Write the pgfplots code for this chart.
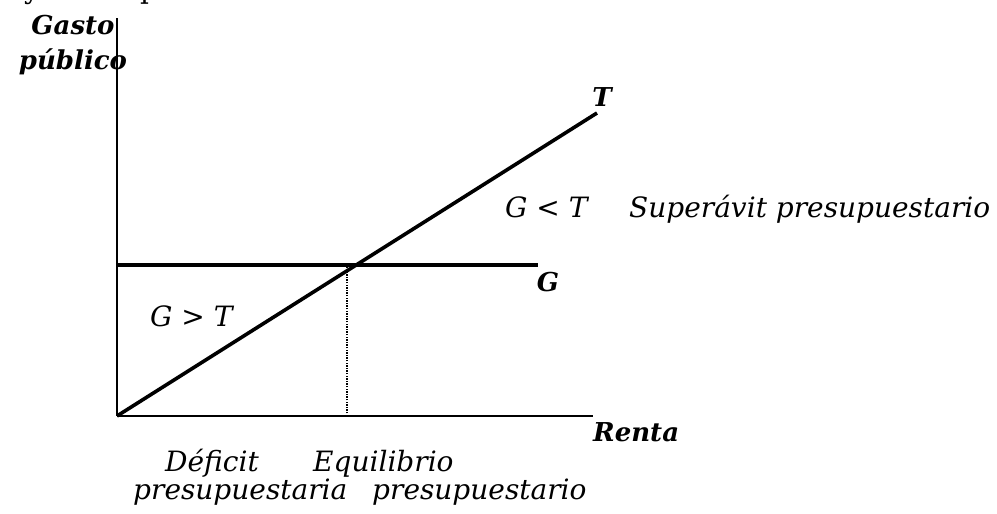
\documentclass[border=0pt]{standalone}
\usepackage{pgfplots}
\pgfplotsset{compat=1.18}
\usepackage{fontspec}
\setmainfont{DejaVu Serif}
\newcommand{\lbl}{\fontsize{28}{30}\selectfont\itshape}
\newcommand{\blbl}{\fontsize{26}{28}\selectfont\bfseries\itshape}
\begin{document}
\begin{tikzpicture}
\begin{axis}[
  x=1pt, y=1pt,
  xmin=0, xmax=476, ymin=0, ymax=398,
  axis lines=left,
  axis line style={-, line width=1.8pt, black},
  xtick=\empty, ytick=\empty,
  clip=false,
]
% T line (taxes)
\addplot[black, line width=3.6pt] coordinates {(0,0) (480,303)};
% G line (public spending)
\addplot[black, line width=3.6pt] coordinates {(0,151) (421,151)};
% equilibrium dotted line
\addplot[black, line width=1.3pt, dash pattern=on 1.3pt off 1.3pt] coordinates {(230,0) (230,151)};
\node[anchor=base, font=\blbl] at (axis cs:-44,381) {Gasto};
\node[anchor=base, font=\blbl] at (axis cs:-44,346) {público};
\node[anchor=center, font=\blbl] at (axis cs:485,319) {T};
\node[anchor=center, font=\blbl] at (axis cs:431,134) {G};
\node[anchor=base west, font=\blbl, inner sep=0pt] at (axis cs:476,-26) {Renta};
\node[anchor=base west, font=\lbl, inner sep=0pt] at (axis cs:33,89) {G > T};
\node[anchor=base west, font=\lbl, inner sep=0pt] at (axis cs:388,198) {G < T};
\node[anchor=base west, font=\lbl, inner sep=0pt] at (axis cs:512,198) {Superávit presupuestario};
\node[anchor=base west, font=\lbl, inner sep=0pt] at (axis cs:48,-56) {Déficit};
\node[anchor=base west, font=\lbl, inner sep=0pt] at (axis cs:16,-84) {presupuestaria};
\node[anchor=base west, font=\lbl, inner sep=0pt] at (axis cs:196,-56) {Equilibrio};
\node[anchor=base west, font=\lbl, inner sep=0pt] at (axis cs:255,-84) {presupuestario};
% descenders of a line of text above the picture (cut by the page edge)
\node[anchor=base, font=\fontsize{28}{30}\selectfont, inner sep=0pt] at (axis cs:-85,417.5) {y};
\node[anchor=base west, font=\fontsize{28}{30}\selectfont, inner sep=0pt] at (axis cs:23,417.5) {p};
\coordinate (BL) at (axis cs:-117,-98);
\coordinate (TR) at (axis cs:880,416);
\end{axis}
\pgfresetboundingbox
\path[use as bounding box] (BL) rectangle (TR);
\end{tikzpicture}
\end{document}
